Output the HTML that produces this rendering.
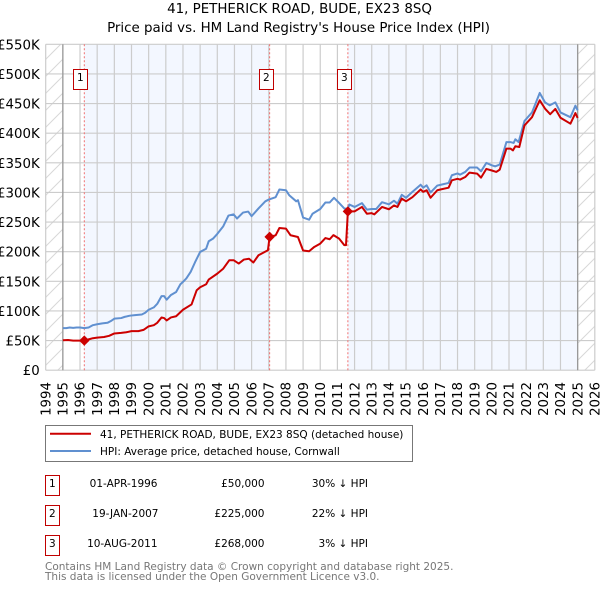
<!DOCTYPE html>
<html>
<head>
<meta charset="utf-8">
<title>41, Petherick Road price chart</title>
<style>
html,body{margin:0;padding:0;background:#fff;}
body{width:600px;height:590px;overflow:hidden;position:relative;}
svg{position:absolute;left:0;top:0;font-family:"DejaVu Sans","Liberation Sans",sans-serif;}
</style>
</head>
<body>
<svg id="chart" width="600" height="590" viewBox="0 0 600 590" xmlns="http://www.w3.org/2000/svg">
  <defs>
    <pattern id="hatch" width="17" height="17" patternUnits="userSpaceOnUse" patternTransform="translate(0 3)">
      <path d="M-2 19L19 -2M-2 2L2 -2M15 19L19 15" stroke="#d8d8d8" stroke-width="1" fill="none"/>
    </pattern>
  </defs>
  <text x="299.5" y="13" text-anchor="middle" font-size="13.4" fill="#000">41, PETHERICK ROAD, BUDE, EX23 8SQ</text>
  <text x="298.5" y="32" text-anchor="middle" font-size="13.4" fill="#000">Price paid vs. HM Land Registry's House Price Index (HPI)</text>
  <g id="plot"></g>

  <g>
    <rect x="45.5" y="425.5" width="367" height="36" fill="#fff" stroke="#777" stroke-width="1"/>
    <line x1="50" y1="433.8" x2="91" y2="433.8" stroke="#cc0000" stroke-width="2"/>
    <text x="100" y="438" font-size="10.5" fill="#000">41, PETHERICK ROAD, BUDE, EX23 8SQ (detached house)</text>
    <line x1="50" y1="451" x2="91" y2="451" stroke="#6090d0" stroke-width="2"/>
    <text x="100" y="455" font-size="10.5" fill="#000">HPI: Average price, detached house, Cornwall</text>
  </g>

  <g font-size="10.5" fill="#000">
    <rect x="45.5" y="475.5" width="14" height="20" fill="#fff" stroke="#c00000" stroke-width="1"/>
    <text x="52.3" y="487" text-anchor="middle">1</text>
    <text x="157.5" y="487" text-anchor="end">01-APR-1996</text>
    <text x="264.5" y="487" text-anchor="end">£50,000</text>
    <text x="368" y="487" text-anchor="end">30% ↓ HPI</text>

    <rect x="45.5" y="505.5" width="14" height="20" fill="#fff" stroke="#c00000" stroke-width="1"/>
    <text x="52.3" y="517" text-anchor="middle">2</text>
    <text x="158.5" y="517" text-anchor="end">19-JAN-2007</text>
    <text x="264.5" y="517" text-anchor="end">£225,000</text>
    <text x="368" y="517" text-anchor="end">22% ↓ HPI</text>

    <rect x="45.5" y="535.5" width="14" height="20" fill="#fff" stroke="#c00000" stroke-width="1"/>
    <text x="52.3" y="547" text-anchor="middle">3</text>
    <text x="157.5" y="547" text-anchor="end">10-AUG-2011</text>
    <text x="264.5" y="547" text-anchor="end">£268,000</text>
    <text x="368" y="547" text-anchor="end">3% ↓ HPI</text>
  </g>

  <text x="45" y="570" font-size="10.5" fill="#777">Contains HM Land Registry data © Crown copyright and database right 2025.</text>
  <text x="45" y="580" font-size="10.5" fill="#777">This data is licensed under the Open Government Licence v3.0.</text>
</svg>
<script>
var yearTicks = [1994,1995,1996,1997,1998,1999,2000,2001,2002,2003,2004,2005,2006,2007,2008,2009,2010,2011,2012,2013,2014,2015,2016,2017,2018,2019,2020,2021,2022,2023,2024,2025,2026];
var priceTicks = [0,50,100,150,200,250,300,350,400,450,500,550];
var priceTickLabels = ['£0','£50K','£100K','£150K','£200K','£250K','£300K','£350K','£400K','£450K','£500K','£550K'];
var saleYears = [1996.25,2007.05,2011.61];
var salePrices = [50,225,268];
var saleLabels = ['1','2','3'];
var dataStartYear = 1995;
var dataEndYear = 2025;
var hpiYears = [1995,1995.2,1995.4,1995.6,1995.8,1996,1996.25,1996.5,1996.75,1997,1997.3,1997.6,1997.8,1998,1998.4,1998.6,1998.9,1999.2,1999.6,1999.8,2000,2000.3,2000.5,2000.75,2000.9,2001.05,2001.3,2001.6,2001.85,2002,2002.2,2002.45,2002.7,2003,2003.35,2003.5,2003.75,2004,2004.35,2004.65,2004.95,2005.15,2005.5,2005.8,2006,2006.4,2006.8,2007,2007.4,2007.62,2008,2008.2,2008.6,2008.7,2009,2009.35,2009.55,2010,2010.3,2010.55,2010.8,2011.05,2011.4,2011.6,2011.7,2012,2012.43,2012.72,2013,2013.26,2013.6,2014,2014.3,2014.5,2014.75,2015,2015.37,2015.85,2016,2016.2,2016.43,2016.82,2017,2017.48,2017.67,2018,2018.15,2018.45,2018.7,2019.14,2019.37,2019.68,2020,2020.2,2020.46,2020.85,2021.08,2021.27,2021.37,2021.56,2021.9,2022.34,2022.79,2023.1,2023.37,2023.7,2024,2024.58,2024.87,2025];
var hpiValues = [71,71,72,71.5,72,72,71,72,76,77.5,79,80,83,87,88,90,92,93,94,97,102,106,112,125,125,119,127,132,145,149,155,166,182,199.6,205,217.6,222,230,243,261,263,256,266,267.7,260,273,285,288,292,305,303.7,295,285,287,257.6,254,264,272,283,283,291,283.7,273,272.7,279.5,275.5,282,271,272,272,283.5,280,286,281,296,291,301,313,308,312,300,311.6,312.7,316,329,332,330,334.6,342,342,335.7,349.8,345.8,344,347,385,385,383.5,389.7,385,420.6,435,467.9,452,447,452,435,427,446.5,438.6];
var paidYears = [1995,1995.3,1995.6,1995.9,1996,1996.25,1996.5,1996.75,1997,1997.4,1997.7,1998,1998.4,1998.7,1999,1999.4,1999.7,2000,2000.3,2000.5,2000.75,2000.9,2001.05,2001.3,2001.6,2002,2002.5,2002.8,2003,2003.35,2003.5,2004,2004.35,2004.7,2004.95,2005.25,2005.55,2005.85,2006.1,2006.4,2006.95,2007.05,2007.4,2007.62,2008,2008.27,2008.7,2009,2009.35,2009.65,2010,2010.3,2010.55,2010.77,2011.1,2011.4,2011.5,2011.61,2012,2012.43,2012.72,2013,2013.15,2013.6,2014,2014.3,2014.5,2014.75,2015,2015.37,2015.85,2016,2016.2,2016.43,2016.82,2017,2017.48,2017.67,2018,2018.15,2018.45,2018.7,2019.14,2019.37,2019.68,2020,2020.26,2020.46,2020.85,2021.08,2021.23,2021.37,2021.6,2021.9,2022.34,2022.79,2023.1,2023.4,2023.7,2024,2024.58,2024.87,2025];
var paidValues = [50.6,51,50,50,50,50,52,54,55,56,58,62,63,64,66,66,68,74,76,80,89,88,84,89,91,102,111,135,140,145,153,163,171.5,185.6,185.6,180,186.7,188,181.7,194,202.4,225,227.7,240,239,227.7,224.8,202,200.8,208,213.7,223,221,228,222,211,211,268,268,275.5,264,265,263,275.5,271.6,278,275.5,289.6,285,292,305,301,303.7,291,303.7,305,308,320.5,323,321.7,326,333.5,331.8,325,339.7,337,334.6,338.5,374,374,371,378,376.7,413,427,455.5,441.4,432,441,426,416,434,425.6];

var plotLeft = 45.7, plotRight = 594.8, plotTop = 44.3, plotBottom = 370.2;
var svgNS = 'http://www.w3.org/2000/svg';
var plot = document.getElementById('plot');

function xScale(year) { return plotLeft + (year - 1994) * (plotRight - plotLeft) / 32; }
function yScale(value) { return plotBottom - value * (plotBottom - plotTop) / 550; }
function make(tag, attrs) {
  var el = document.createElementNS(svgNS, tag);
  for (var k in attrs) { el.setAttribute(k, attrs[k]); }
  plot.appendChild(el);
  return el;
}
function linePath(xs, ys) {
  var d = '';
  for (var i = 0; i < xs.length; i++) {
    d += (i ? 'L' : 'M') + xScale(xs[i]).toFixed(2) + ' ' + yScale(ys[i]).toFixed(2);
  }
  return d;
}

var el;
el = make('rect', {x: xScale(1994), y: plotTop, width: xScale(dataStartYear) - xScale(1994), height: plotBottom - plotTop, fill: 'url(#hatch)'});


el = make('rect', {x: xScale(dataEndYear), y: plotTop, width: xScale(2026) - xScale(dataEndYear), height: plotBottom - plotTop, fill: 'url(#hatch)'});


el = make('rect', {x: xScale(saleYears[0]), y: plotTop, width: xScale(saleYears[1]) - xScale(saleYears[0]), height: plotBottom - plotTop, fill: '#f3f7ff'});


el = make('rect', {x: xScale(saleYears[2]), y: plotTop, width: xScale(dataEndYear) - xScale(saleYears[2]), height: plotBottom - plotTop, fill: '#f3f7ff'});



yearTicks.forEach(function (yr) {
  var x = xScale(yr);
  var g = make('line', {x1: x, x2: x, y1: plotTop, y2: plotBottom, stroke: '#cccccc', 'stroke-width': 1.2});
  
  
  var t = make('text', {x: 0, y: 0, 'font-size': 13.33, fill: '#000', 'text-anchor': 'end', transform: 'translate(' + (x + 4.7) + ' 382) rotate(-90)'});
  t.textContent = yr;
  
  
});
priceTicks.forEach(function (v, i) {
  var y = yScale(v);
  var g = make('line', {x1: plotLeft, x2: plotRight, y1: y, y2: y, stroke: '#cccccc', 'stroke-width': 1.2});
  
  
  var t = make('text', {x: 39.7, y: y + 5, 'font-size': 13.33, fill: '#000', 'text-anchor': 'end'});
  t.textContent = priceTickLabels[i];
  
  
});
el = make('line', {x1: xScale(dataStartYear), x2: xScale(dataStartYear), y1: plotTop, y2: plotBottom, stroke: '#999999', 'stroke-width': 1.3});


el = make('line', {x1: xScale(dataEndYear), x2: xScale(dataEndYear), y1: plotTop, y2: plotBottom, stroke: '#999999', 'stroke-width': 1.3});



saleYears.forEach(function (yr) {
  var x = xScale(yr);
  var s = make('line', {x1: x, x2: x, y1: plotTop, y2: plotBottom, stroke: '#f07070', 'stroke-width': 1, 'stroke-dasharray': '2 2'});
  
  
});

el = make('path', {d: linePath(hpiYears, hpiValues), fill: 'none', stroke: '#6090d0', 'stroke-width': 2, 'stroke-linejoin': 'round'});


el = make('path', {d: linePath(paidYears, paidValues), fill: 'none', stroke: '#cc0000', 'stroke-width': 2, 'stroke-linejoin': 'round'});



saleYears.forEach(function (yr, i) {
  var x = xScale(yr), y = yScale(salePrices[i]), r = 5.2;
  var m = make('polygon', {points: (x - r) + ',' + y + ' ' + x + ',' + (y - r) + ' ' + (x + r) + ',' + y + ' ' + x + ',' + (y + r), fill: '#cc0000'});
  
  
  var b = make('rect', {x: Math.round(x - 4 - 7) + 0.5, y: 69.5, width: 14, height: 20, fill: '#fff', stroke: '#c00000', 'stroke-width': 1});
  
  
  var t = make('text', {x: Math.round(x - 4 - 7) + 7.3, y: 81, 'font-size': 10.5, fill: '#000', 'text-anchor': 'middle'});
  t.textContent = saleLabels[i];
  
  
});
</script>
</body>
</html>
